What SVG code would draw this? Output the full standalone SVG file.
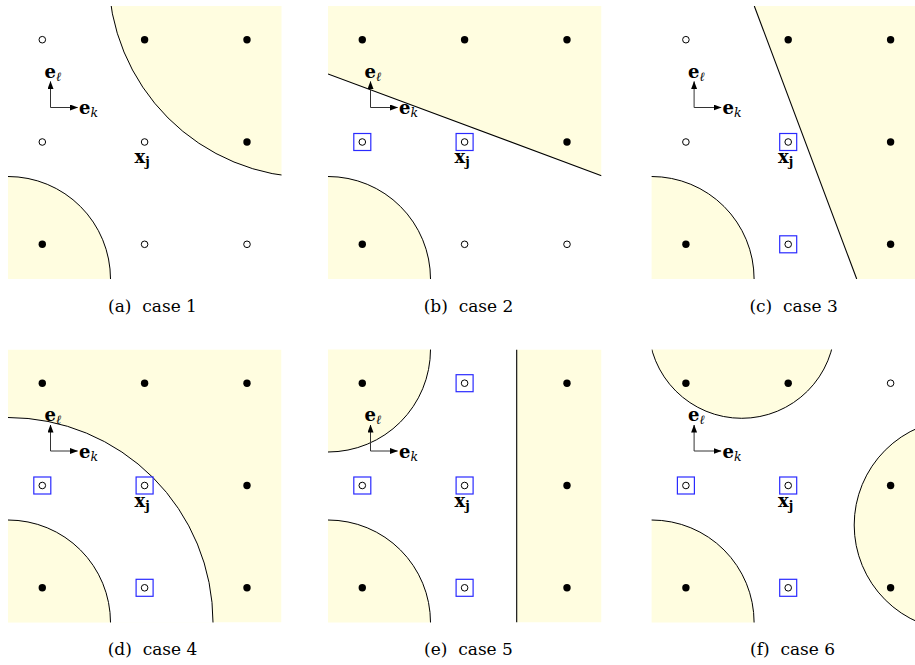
<svg xmlns="http://www.w3.org/2000/svg" width="915" height="665" viewBox="0 0 915 665">
<style>
.y{fill:#fffde0;stroke:none}
.yc{fill:#fffde0;stroke:#000;stroke-width:1}
.wc{fill:#fff;stroke:#000;stroke-width:1}
.ln{fill:none;stroke:#000;stroke-width:1.1}
.fd{fill:#000}
.od{fill:#fff;stroke:#000;stroke-width:1}
.sq{fill:none;stroke:#2a2aff;stroke-width:1.2}
.ax{fill:none;stroke:#333;stroke-width:1}
text{font-family:'DejaVu Serif','Liberation Serif',serif;fill:#000}
.ve{font-weight:bold;font-size:18px}
.vs{font-style:italic;font-weight:normal;font-size:12.5px}
.vb{font-weight:bold;font-size:12.5px}
.cap{font-size:17px}
</style>
<defs>
<clipPath id="pc"><rect x="8" y="6" width="273.5" height="273"/></clipPath>
<marker id="ah" viewBox="0 0 8 6" refX="7.5" refY="3" markerWidth="8" markerHeight="6" markerUnits="userSpaceOnUse" orient="auto"><path d="M0,0 L8,3 L0,6 Z" fill="#000"/></marker>
<circle id="F" r="3.7" class="fd"/>
<circle id="O" r="3.3" class="od"/>
<g id="S"><rect x="-8.5" y="-8.5" width="17" height="17" class="sq"/><circle r="3.3" class="od"/></g>
<g id="AX"><path class="ax" d="M50.5,107.5 V81.5" marker-end="url(#ah)"/><path class="ax" d="M50.5,107.5 H77.5" marker-end="url(#ah)"/></g>
</defs>

<g id="panel-a">
<g clip-path="url(#pc)">
<circle class="yc" cx="8" cy="279" r="102.5"/>
<circle class="yc" cx="311.8" cy="-25.8" r="203.3"/>
</g>
<use href="#O" x="42.3" y="39.7"/><use href="#F" x="144.6" y="39.7"/><use href="#F" x="247" y="39.7"/>
<use href="#O" x="42.3" y="142"/><use href="#O" x="144.6" y="142"/><use href="#F" x="247" y="142"/>
<use href="#F" x="42.3" y="244.3"/><use href="#O" x="144.6" y="244.3"/><use href="#O" x="247" y="244.3"/>
<use href="#AX"/>
<text class="ve" x="44.5" y="77.5">e<tspan class="vs" dy="3">ℓ</tspan></text>
<text class="ve" x="79" y="114">e<tspan class="vs" dy="3">k</tspan></text>
<text class="ve" x="134.5" y="163">x<tspan class="vb" dy="3">j</tspan></text>
<text class="cap" x="152.5" y="312" text-anchor="middle" xml:space="preserve">(a)  case 1</text>
</g>

<g id="panel-b" transform="translate(320,0)">
<g clip-path="url(#pc)">
<circle class="yc" cx="8" cy="279" r="102.5"/>
<path class="y" d="M8,6 H281.5 V175.7 L8,74 Z"/>
<path class="ln" d="M8,74 L281.5,175.7"/>
</g>
<use href="#F" x="42.3" y="39.7"/><use href="#F" x="144.6" y="39.7"/><use href="#F" x="247" y="39.7"/>
<use href="#S" x="42.3" y="142"/><use href="#S" x="144.6" y="142"/><use href="#F" x="247" y="142"/>
<use href="#F" x="42.3" y="244.3"/><use href="#O" x="144.6" y="244.3"/><use href="#O" x="247" y="244.3"/>
<use href="#AX"/>
<text class="ve" x="44.5" y="77.5">e<tspan class="vs" dy="3">ℓ</tspan></text>
<text class="ve" x="79" y="114">e<tspan class="vs" dy="3">k</tspan></text>
<text class="ve" x="134.5" y="163">x<tspan class="vb" dy="3">j</tspan></text>
<text class="cap" x="148.5" y="312" text-anchor="middle" xml:space="preserve">(b)  case 2</text>
</g>

<g id="panel-c" transform="translate(643.6,0)">
<g clip-path="url(#pc)">
<circle class="yc" cx="8" cy="279" r="102.5"/>
<path class="y" d="M110.7,6 H281.5 V279 H213.1 Z"/>
<path class="ln" d="M110.7,6 L213.1,279"/>
</g>
<use href="#O" x="42.3" y="39.7"/><use href="#F" x="144.6" y="39.7"/><use href="#F" x="247" y="39.7"/>
<use href="#O" x="42.3" y="142"/><use href="#S" x="144.6" y="142"/><use href="#F" x="247" y="142"/>
<use href="#F" x="42.3" y="244.3"/><use href="#S" x="144.6" y="244.3"/><use href="#F" x="247" y="244.3"/>
<use href="#AX"/>
<text class="ve" x="44.5" y="77.5">e<tspan class="vs" dy="3">ℓ</tspan></text>
<text class="ve" x="79" y="114">e<tspan class="vs" dy="3">k</tspan></text>
<text class="ve" x="134.5" y="163">x<tspan class="vb" dy="3">j</tspan></text>
<text class="cap" x="150" y="312" text-anchor="middle" xml:space="preserve">(c)  case 3</text>
</g>

<g id="panel-d" transform="translate(0,343.5)">
<g clip-path="url(#pc)">
<rect class="y" x="8" y="6" width="273.5" height="273"/>
<circle class="wc" cx="8" cy="279" r="205"/>
<circle class="yc" cx="8" cy="279" r="102.5"/>
</g>
<use href="#F" x="42.3" y="39.7"/><use href="#F" x="144.6" y="39.7"/><use href="#F" x="247" y="39.7"/>
<use href="#S" x="42.3" y="142"/><use href="#S" x="144.6" y="142"/><use href="#F" x="247" y="142"/>
<use href="#F" x="42.3" y="244.3"/><use href="#S" x="144.6" y="244.3"/><use href="#F" x="247" y="244.3"/>
<use href="#AX"/>
<text class="ve" x="44.5" y="77.5">e<tspan class="vs" dy="3">ℓ</tspan></text>
<text class="ve" x="79" y="114">e<tspan class="vs" dy="3">k</tspan></text>
<text class="ve" x="134.5" y="163">x<tspan class="vb" dy="3">j</tspan></text>
<text class="cap" x="152.5" y="311" text-anchor="middle" xml:space="preserve">(d)  case 4</text>
</g>

<g id="panel-e" transform="translate(320,343.5)">
<g clip-path="url(#pc)">
<circle class="yc" cx="8" cy="6" r="102.5"/>
<circle class="yc" cx="8" cy="279" r="102.5"/>
<rect class="y" x="196.7" y="6" width="84.8" height="273"/>
<path class="ln" d="M196.7,6 V279"/>
</g>
<use href="#F" x="42.3" y="39.7"/><use href="#S" x="144.6" y="39.7"/><use href="#F" x="247" y="39.7"/>
<use href="#S" x="42.3" y="142"/><use href="#S" x="144.6" y="142"/><use href="#F" x="247" y="142"/>
<use href="#F" x="42.3" y="244.3"/><use href="#S" x="144.6" y="244.3"/><use href="#F" x="247" y="244.3"/>
<use href="#AX"/>
<text class="ve" x="44.5" y="77.5">e<tspan class="vs" dy="3">ℓ</tspan></text>
<text class="ve" x="79" y="114">e<tspan class="vs" dy="3">k</tspan></text>
<text class="ve" x="134.5" y="163">x<tspan class="vb" dy="3">j</tspan></text>
<text class="cap" x="148.5" y="311" text-anchor="middle" xml:space="preserve">(e)  case 5</text>
</g>

<g id="panel-f" transform="translate(643.6,343.5)">
<g clip-path="url(#pc)">
<circle class="yc" cx="98.1" cy="-18.4" r="93.2"/>
<circle class="yc" cx="316.4" cy="181.5" r="105.8"/>
<circle class="yc" cx="8" cy="279" r="102.5"/>
</g>
<use href="#F" x="42.3" y="39.7"/><use href="#F" x="144.6" y="39.7"/><use href="#O" x="247" y="39.7"/>
<use href="#S" x="42.3" y="142"/><use href="#S" x="144.6" y="142"/><use href="#F" x="247" y="142"/>
<use href="#F" x="42.3" y="244.3"/><use href="#S" x="144.6" y="244.3"/><use href="#F" x="247" y="244.3"/>
<use href="#AX"/>
<text class="ve" x="44.5" y="77.5">e<tspan class="vs" dy="3">ℓ</tspan></text>
<text class="ve" x="79" y="114">e<tspan class="vs" dy="3">k</tspan></text>
<text class="ve" x="134.5" y="163">x<tspan class="vb" dy="3">j</tspan></text>
<text class="cap" x="149" y="311" text-anchor="middle" xml:space="preserve">(f)  case 6</text>
</g>
</svg>
